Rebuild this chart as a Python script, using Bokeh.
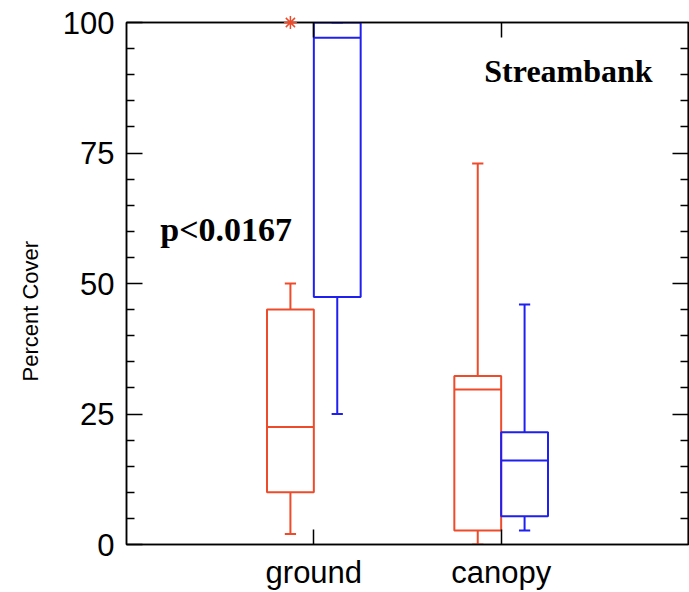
from bokeh.plotting import figure
from bokeh.models import (FixedTicker, LinearAxis, Label, Title, ColumnDataSource, Range1d)
from bokeh.embed import file_html
from bokeh.resources import INLINE

# ---- data ----
categories = ["ground", "canopy"]
cat_pos = [1, 2]
# series 1 (red)
red_low = [2, 0]
red_q1 = [10, 2.7]
red_med = [22.5, 29.7]
red_q3 = [45, 32.3]
red_high = [50, 73]
red_outlier_cat = [1]
red_outlier_val = [100]
# series 2 (blue)
blue_low = [25, 2.7]
blue_q1 = [47.4, 5.4]
blue_med = [97.1, 16.1]
blue_q3 = [100, 21.5]
blue_high = [100, 46]

y_ticks = [0, 25, 50, 75, 100]
y_title = "Percent Cover"

RED = "#ee4b2b"
BLUE = "#1f1ff0"
BOX_W = 0.25
CAP_W = 0.06
LW = 2

p = figure(width=689, height=592, output_backend="svg", toolbar_location=None,
           x_range=Range1d(0, 3), y_range=Range1d(0, 100),
           min_border_left=126, min_border_right=1, min_border_top=22,
           min_border_bottom=46)
p.xgrid.visible = False
p.ygrid.visible = False
p.outline_line_color = "black"
p.outline_line_width = 1.5
p.background_fill_color = "white"
p.border_fill_color = "white"

minor = [v for v in range(0, 101, 5) if v not in y_ticks]

# left axis
ya = p.yaxis[0]
ya.ticker = FixedTicker(ticks=y_ticks, minor_ticks=minor)
ya.major_tick_in = 16
ya.major_tick_out = 0
ya.minor_tick_in = 8
ya.minor_tick_out = 0
ya.axis_line_width = 1.5
ya.major_tick_line_width = 1.5
ya.minor_tick_line_width = 1.5
ya.major_label_text_font = "Liberation Sans"
ya.major_label_text_font_size = "31px"
ya.major_label_text_color = "black"
ya.major_label_standoff = 12

# bottom axis
xa = p.xaxis[0]
xa.ticker = FixedTicker(ticks=cat_pos, minor_ticks=[])
xa.major_label_overrides = {c: n for c, n in zip(cat_pos, categories)}
xa.major_tick_in = 15
xa.major_tick_out = 0
xa.minor_tick_in = 0
xa.minor_tick_out = 0
xa.axis_line_width = 1.5
xa.major_tick_line_width = 1.5
xa.major_label_text_font = "Liberation Sans"
xa.major_label_text_font_size = "31px"
xa.major_label_text_color = "black"
xa.major_label_standoff = 10


def tick_axis(ticks, length):
    ax = LinearAxis(ticker=FixedTicker(ticks=[], minor_ticks=ticks))
    ax.major_tick_in = 0
    ax.major_tick_out = 0
    ax.minor_tick_in = length
    ax.minor_tick_out = 0
    ax.axis_line_width = 1.5
    ax.minor_tick_line_width = 1.5
    ax.major_label_standoff = 0
    return ax


# right side: minor and major ticks, no labels
p.add_layout(tick_axis(minor, 8), "right")
p.add_layout(tick_axis(y_ticks[1:-1], 16), "right")
# top side: category ticks, no labels
p.add_layout(tick_axis(cat_pos, 15), "above")

# y axis title, starting part-way up the axis like the original
p.add_layout(Title(text=y_title, align="left", offset=163, standoff=31,
                   vertical_align="middle",
                   text_font="Liberation Sans", text_font_style="normal",
                   text_font_size="22px", text_color="black"), "left")


def draw_boxes(offset, low, q1, med, q3, high, color):
    xc = [c + offset for c in cat_pos]
    src = ColumnDataSource(dict(
        x=xc, l=[x - BOX_W / 2 for x in xc], r=[x + BOX_W / 2 for x in xc],
        cl=[x - CAP_W / 2 for x in xc], cr=[x + CAP_W / 2 for x in xc],
        low=low, q1=q1, med=med, q3=q3, high=high))
    p.segment(x0="x", x1="x", y0="q3", y1="high", source=src, line_color=color, line_width=LW)
    p.segment(x0="x", x1="x", y0="q1", y1="low", source=src, line_color=color, line_width=LW)
    p.segment(x0="cl", x1="cr", y0="high", y1="high", source=src, line_color=color, line_width=LW)
    p.segment(x0="cl", x1="cr", y0="low", y1="low", source=src, line_color=color, line_width=LW)
    p.quad(left="l", right="r", bottom="q1", top="q3", source=src,
           fill_color=None, line_color=color, line_width=LW)
    p.segment(x0="l", x1="r", y0="med", y1="med", source=src, line_color=color, line_width=LW)


draw_boxes(-BOX_W / 2, red_low, red_q1, red_med, red_q3, red_high, RED)
draw_boxes(BOX_W / 2, blue_low, blue_q1, blue_med, blue_q3, blue_high, BLUE)

p.scatter(x=[c - BOX_W / 2 for c in red_outlier_cat], y=red_outlier_val,
          marker="asterisk", size=13, line_color=RED, line_width=1.5, level="overlay")

p.add_layout(Label(x=1.91, y=90.7, text="Streambank", text_font="Liberation Serif",
                   text_font_style="bold", text_font_size="32px", text_color="black",
                   text_baseline="alphabetic"))
p.add_layout(Label(x=0.18, y=60.4, text="p<0.0167", text_font="Liberation Serif",
                   text_font_style="bold", text_font_size="34px", text_color="black",
                   text_baseline="alphabetic"))

open("out.html", "w").write(file_html(p, INLINE))
